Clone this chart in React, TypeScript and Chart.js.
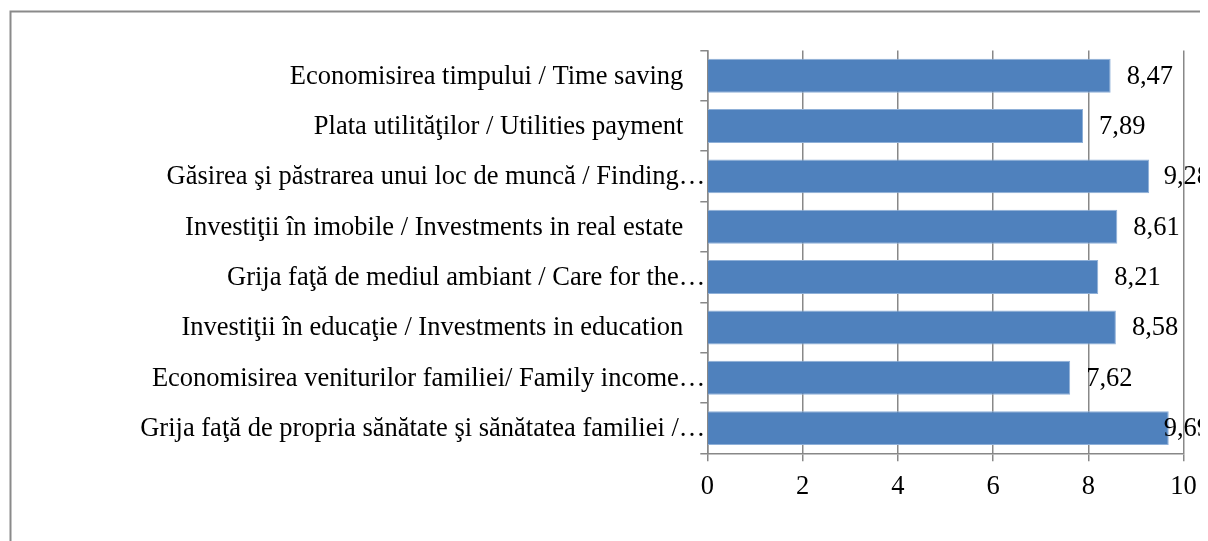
import { useEffect, useRef } from "react";
import { Chart, registerables } from "chart.js";
Chart.register(...registerables);

const categories = [
  "Economisirea timpului / Time saving",
  "Plata utilităţilor / Utilities payment",
  "Găsirea şi păstrarea unui loc de muncă / Finding…",
  "Investiţii în imobile / Investments in real estate",
  "Grija faţă de mediul ambiant / Care for the…",
  "Investiţii în educaţie / Investments in education",
  "Economisirea veniturilor familiei/ Family income…",
  "Grija faţă de propria sănătate şi sănătatea familiei /…",
];
const values = [8.47, 7.89, 9.28, 8.61, 8.21, 8.58, 7.62, 9.69];
const xTicks = [0, 2, 4, 6, 8, 10];

const FONT_FAMILY = "'Liberation Serif', 'Times New Roman', serif";
const FONT_SIZE = 26.5;
const FONT = `${FONT_SIZE}px ${FONT_FAMILY}`;
const GRID = "#888888";
const BAR = "#4F81BD";

const W = 1200;
const H = 533;

const frame = {
  id: "frame",
  beforeDraw(chart: any) {
    const ctx = chart.ctx;
    ctx.save();
    ctx.fillStyle = "#ffffff";
    ctx.fillRect(0, 0, chart.width, chart.height);
    ctx.strokeStyle = "#8a8a8a";
    ctx.lineWidth = 2;
    ctx.strokeRect(2.5, 3.5, chart.width + 100, chart.height + 100);
    ctx.restore();
  },
};

const labelsPlugin = {
  id: "labelsPlugin",
  afterDraw(chart: any) {
    const ctx = chart.ctx;
    const ys = chart.scales.y;
    ctx.save();
    ctx.font = FONT;
    ctx.fillStyle = "#000";
    ctx.textBaseline = "middle";
    ctx.textAlign = "right";
    categories.forEach((c, i) => {
      const py = ys.getPixelForValue(i);
      const x = chart.chartArea.left - (c.endsWith("…") ? 2 : 24);
      ctx.fillText(c, x, py + 1);
    });
    ctx.textAlign = "left";
    const meta = chart.getDatasetMeta(0);
    meta.data.forEach((bar: any, i: number) => {
      const txt = values[i].toFixed(2).replace(".", ",");
      const w = ctx.measureText(txt).width;
      const x = Math.min(bar.x + 16, chart.width + 2 - w);
      ctx.fillText(txt, x, bar.y + 1);
    });
    ctx.restore();
  },
};

export default function App() {
  const ref = useRef<HTMLCanvasElement>(null);
  useEffect(() => {
    document.body.style.overflow = "hidden";
    const chart = new Chart(ref.current!, {
      type: "bar",
      data: {
        labels: categories,
        datasets: [
          {
            data: values,
            backgroundColor: BAR,
            borderColor: "#8FB0D8",
            borderWidth: 1,
            barPercentage: 0.675,
            categoryPercentage: 1,
          },
        ],
      },
      options: {
        indexAxis: "y",
        responsive: false,
        animation: false,
        devicePixelRatio: 1,
        layout: { padding: { top: 42.5, right: 24.5, left: 0, bottom: 0 } },
        plugins: { legend: { display: false }, tooltip: { enabled: false } },
        scales: {
          x: {
            min: 0,
            max: 10,
            afterBuildTicks: (s: any) => {
              s.ticks = xTicks.map((v) => ({ value: v }));
            },
            afterFit: (s: any) => {
              s.height = 87.7;
            },
            grid: { color: GRID, lineWidth: 1.5, tickLength: 8, drawTicks: true },
            border: { color: GRID, width: 1.5 },
            ticks: {
              color: "#000",
              font: { family: FONT_FAMILY, size: FONT_SIZE },
              padding: 10,
              maxRotation: 0,
            },
          },
          y: {
            afterFit: (s: any) => {
              s.width = 699.3;
            },
            grid: { drawOnChartArea: false, color: GRID, lineWidth: 1.5, tickLength: 7, offset: true },
            border: { color: GRID, width: 1.5 },
            ticks: { display: false },
          },
        },
      },
      plugins: [frame, labelsPlugin],
    });
    return () => chart.destroy();
  }, []);
  return (
    <div style={{ width: W, height: H }}>
      <canvas ref={ref} width={W} height={H} style={{ display: "block" }} />
    </div>
  );
}
